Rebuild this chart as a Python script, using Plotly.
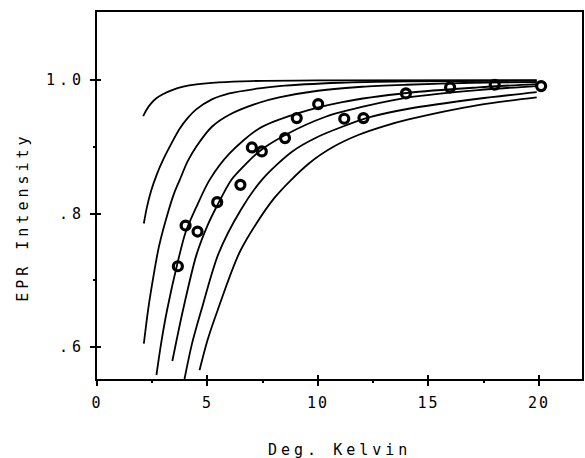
import plotly.graph_objects as go

# ---- data ----
temp_K = [3.66, 4.01, 4.55, 5.44, 6.49, 7.01, 7.46, 8.51, 9.04, 10.01, 11.19, 12.06, 13.98, 15.98, 18.0, 20.1]
epr_int = [0.721, 0.782, 0.773, 0.817, 0.843, 0.899, 0.893, 0.913, 0.943, 0.964, 0.942, 0.943, 0.980, 0.989, 0.993, 0.991]

curve_a_x = [2.09, 2.25, 2.45, 2.7, 3.0, 3.4, 3.9, 4.5, 5.5, 7.0, 10.0, 19.9]
curve_a_y = [0.946, 0.956, 0.965, 0.973, 0.979, 0.985, 0.990, 0.9935, 0.9965, 0.9985, 0.9995, 1.0]

curve_b_x = [2.12, 2.25, 2.45, 2.7, 3.0, 3.4, 3.74, 4.1, 4.49, 5.2, 5.99, 7.34, 8.24, 11.0, 14.0, 19.9]
curve_b_y = [0.785, 0.808, 0.834, 0.858, 0.881, 0.907, 0.927, 0.943, 0.956, 0.971, 0.98, 0.9875, 0.991, 0.996, 0.998, 0.999]

curve_c_x = [2.12, 2.31, 2.55, 2.8, 3.2, 3.51, 3.74, 4.1, 4.49, 5.2, 5.99, 7.34, 8.24, 10.0, 12.0, 14.0, 17.0, 19.9]
curve_c_y = [0.605, 0.655, 0.705, 0.75, 0.80, 0.832, 0.85, 0.878, 0.90, 0.93, 0.948, 0.966, 0.974, 0.984, 0.99, 0.993, 0.996, 0.997]

curve_d_x = [2.69, 2.9, 3.17, 3.66, 4.01, 4.5, 5.09, 6.0, 7.34, 9.07, 11.1, 14.1, 17.25, 19.9]
curve_d_y = [0.558, 0.605, 0.655, 0.728, 0.772, 0.81, 0.85, 0.89, 0.9275, 0.950, 0.967, 0.981, 0.989, 0.994]

curve_e_x = [3.41, 3.89, 4.5, 5.0, 5.44, 6.07, 6.7, 7.34, 8.54, 10.35, 12.3, 14.1, 17.25, 19.9]
curve_e_y = [0.579, 0.655, 0.738, 0.782, 0.812, 0.85, 0.873, 0.893, 0.918, 0.945, 0.962, 0.974, 0.985, 0.991]

curve_f_x = [3.96, 4.3, 4.72, 5.5, 6.5, 7.5, 8.84, 10.0, 11.1, 12.3, 14.1, 17.25, 19.9]
curve_f_y = [0.552, 0.605, 0.655, 0.74, 0.805, 0.852, 0.893, 0.915, 0.93, 0.944, 0.957, 0.972, 0.982]

curve_g_x = [4.64, 5.0, 5.46, 6.5, 8.02, 9.59, 10.7, 11.85, 13.0, 14.1, 17.25, 19.9]
curve_g_y = [0.565, 0.61, 0.655, 0.745, 0.823, 0.875, 0.90, 0.918, 0.931, 0.941, 0.9625, 0.974]

x_tick_vals = [0, 5, 10, 15, 20]
x_tick_text = ["0", "5", "10", "15", "20"]
y_tick_vals = [0.6, 0.8, 1.0]
y_tick_text = [".6", ".8", "1.0"]

curves = [
    (curve_a_x, curve_a_y), (curve_b_x, curve_b_y), (curve_c_x, curve_c_y),
    (curve_d_x, curve_d_y), (curve_e_x, curve_e_y), (curve_f_x, curve_f_y),
    (curve_g_x, curve_g_y),
]

fig = go.Figure()
for cx, cy in curves:
    fig.add_trace(go.Scatter(x=cx, y=cy, mode="lines",
                             line=dict(color="black", width=1.8, shape="spline", smoothing=0.8),
                             showlegend=False, hoverinfo="skip"))

fig.add_trace(go.Scatter(x=temp_K, y=epr_int, mode="markers",
                         marker=dict(symbol="circle-open", size=9, color="black",
                                     line=dict(color="black", width=3.2)),
                         showlegend=False))

FONT = "DejaVu Sans Mono"
def spaced(t, sp=3):
    return f'<span style="letter-spacing:{sp}px">{t}</span>'

X_RANGE = [0, 21.95]
Y_RANGE = [0.552, 1.102]

fig.update_layout(
    width=585, height=458,
    margin=dict(l=97, r=1, t=12, b=79),
    paper_bgcolor="white", plot_bgcolor="white",
    font=dict(family=FONT, color="black", size=15),
    xaxis=dict(range=X_RANGE, showgrid=False, zeroline=False,
               showline=True, linecolor="black", linewidth=2, mirror=True,
               tickmode="array", tickvals=x_tick_vals,
               ticktext=[spaced(t, 2) for t in x_tick_text],
               ticks="outside", ticklen=5, tickwidth=1.5, tickcolor="black",
               ticklabelstandoff=4,
               minor=dict(tickvals=[2.5, 7.5, 12.5, 17.5], ticks="outside", ticklen=2,
                          tickwidth=2, tickcolor="black"),
               tickfont=dict(family=FONT, size=15)),
    yaxis=dict(range=Y_RANGE, showgrid=False, zeroline=False,
               showline=True, linecolor="black", linewidth=2, mirror=True,
               tickmode="array", tickvals=y_tick_vals,
               ticktext=[spaced(t, 4) for t in y_tick_text],
               ticks="outside", ticklen=5, tickwidth=1.5, tickcolor="black",
               ticklabelstandoff=2,
               minor=dict(tickvals=[0.7, 0.9], ticks="outside", ticklen=2,
                          tickwidth=2, tickcolor="black"),
               tickfont=dict(family=FONT, size=15)),
    xaxis2=dict(range=X_RANGE, overlaying="x", side="bottom", showgrid=False,
                zeroline=False, showticklabels=False, showline=False,
                tickmode="array", tickvals=x_tick_vals, ticks="inside",
                ticklen=4, tickwidth=1.5, tickcolor="black"),
    yaxis2=dict(range=Y_RANGE, overlaying="y", side="left", showgrid=False,
                zeroline=False, showticklabels=False, showline=False,
                tickmode="array", tickvals=y_tick_vals, ticks="inside",
                ticklen=4, tickwidth=1.5, tickcolor="black"),
    annotations=[
        dict(text=spaced("Deg. Kelvin", 4), xref="paper", yref="paper",
             x=0.5, y=-0.193, yanchor="middle", xanchor="center", showarrow=False,
             font=dict(family=FONT, size=15)),
        dict(text=spaced("EPR Intensity", 4), xref="paper", yref="paper",
             x=-0.154, y=0.44, textangle=-90, xanchor="center", yanchor="middle",
             showarrow=False, font=dict(family=FONT, size=15)),
    ],
)
# invisible trace to make the overlay axes render
fig.add_trace(go.Scatter(x=[0], y=[0.6], xaxis="x2", yaxis="y2", mode="markers",
                         marker=dict(opacity=0), showlegend=False, hoverinfo="skip"))

fig.write_html("out.html")
